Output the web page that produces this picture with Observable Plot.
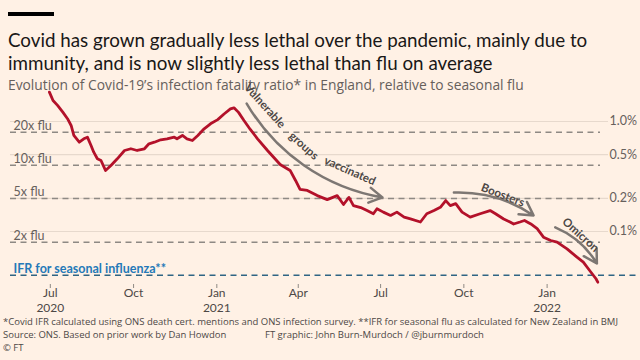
<!DOCTYPE html>
<html><head><meta charset="utf-8">
<script src="https://cdn.jsdelivr.net/npm/d3@7"></script>
<script src="https://cdn.jsdelivr.net/npm/@observablehq/plot@0.6"></script>
<style>
html,body{margin:0;padding:0;background:#fff1e5;}
#root{position:relative;width:640px;height:360px;overflow:hidden;background:#fff1e5;font-family:Lato,"Open Sans",sans-serif;color:#33302e;}
.bar{position:absolute;left:8px;top:12px;width:46px;height:4px;background:#000;}
.title{position:absolute;left:8px;top:28px;font-size:18.8px;line-height:23px;width:632px;color:#1a1817;}
.sub{position:absolute;left:8px;top:75px;font-family:"Open Sans",sans-serif;font-size:13.8px;color:#66605c;white-space:nowrap;}
#chart{position:absolute;left:0;top:90px;}
.foot{position:absolute;font-family:"Open Sans",sans-serif;font-size:9px;line-height:12px;color:#4d4845;white-space:nowrap;}
</style></head>
<body>
<div id="root">
  <div class="bar"></div>
  <div class="title">Covid has grown gradually less lethal over the pandemic, mainly due to immunity, and is now slightly less lethal than flu on average</div>
  <div class="sub">Evolution of Covid-19’s infection fatality ratio* in England, relative to seasonal flu</div>
  <div id="chart"></div>
  <div class="foot" id="f1" style="left:3px;top:316px;">*Covid IFR calculated using ONS death cert. mentions and ONS infection survey. **IFR for seasonal flu as calculated for New Zealand in BMJ</div>
  <div class="foot f2" style="left:3px;top:329px;">Source: ONS. Based on prior work by Dan Howdon</div>
  <div class="foot f2" style="left:265px;top:329px;">FT graphic: John Burn-Murdoch / @jburnmurdoch</div>
  <div class="foot f2" style="left:3px;top:342px;">© FT</div>
</div>
<script>
// ---- data ----
const dates = ["2020-06-30","2020-07-04","2020-07-09","2020-07-15","2020-07-20","2020-07-24","2020-07-27","2020-08-02","2020-08-07","2020-08-11",
"2020-08-15","2020-08-18","2020-08-22","2020-08-26","2020-08-31","2020-09-06","2020-09-13","2020-09-21","2020-09-28","2020-10-05",
"2020-10-13","2020-10-18","2020-10-24","2020-10-31","2020-11-07","2020-11-15","2020-11-18","2020-11-24","2020-11-29","2020-12-05",
"2020-12-11","2020-12-18","2020-12-25","2021-01-02","2021-01-09","2021-01-16","2021-01-20","2021-01-25","2021-01-31","2021-02-07",
"2021-02-15","2021-02-26","2021-03-12","2021-03-23","2021-03-29","2021-04-03","2021-04-11","2021-04-22","2021-05-03","2021-05-14",
"2021-05-21","2021-05-27","2021-06-01","2021-06-09","2021-06-16","2021-06-23","2021-06-27","2021-07-04","2021-07-12","2021-07-19",
"2021-07-27","2021-08-03","2021-08-14","2021-08-21","2021-08-29","2021-09-05","2021-09-11","2021-09-16","2021-09-22","2021-09-29",
"2021-10-08","2021-10-19","2021-10-30","2021-11-05","2021-11-14","2021-11-21","2021-11-25","2021-12-02","2021-12-07","2021-12-14",
"2021-12-21","2021-12-28","2022-01-05","2022-01-12","2022-01-23","2022-02-03","2022-02-10","2022-02-17","2022-02-24","2022-02-26"];
const ifrPct = [1.85,1.55,1.40,1.21,1.06,0.92,0.746,0.648,0.696,0.72,
0.605,0.526,0.458,0.442,0.359,0.398,0.458,0.545,0.565,0.545,
0.565,0.627,0.648,0.682,0.696,0.72,0.696,0.746,0.696,0.672,
0.746,0.858,0.953,1.04,1.17,1.30,1.33,1.21,1.02,0.846,
0.696,0.545,0.406,0.359,0.291,0.241,0.236,0.212,0.195,0.212,
0.176,0.204,0.172,0.165,0.155,0.145,0.161,0.150,0.140,0.150,
0.135,0.130,0.122,0.145,0.155,0.166,0.191,0.172,0.179,0.150,
0.135,0.145,0.155,0.145,0.130,0.122,0.117,0.122,0.126,0.117,
0.106,0.0888,0.0828,0.080,0.0696,0.0584,0.0526,0.0442,0.0372,0.0346];
const fluIFR = 0.04;
const fluMultiples = [20, 10, 5, 2];
const fluLabels = ["20x flu", "10x flu", "5x flu", "2x flu"];
const fluLabel = "IFR for seasonal influenza**";
const pctTicks = [0.1, 0.2, 0.5, 1.0];
const xTickDates = ["2020-07-01","2020-10-01","2021-01-01","2021-04-01","2021-07-01","2021-10-01","2022-01-01"];
const monthLabels = ["Jul","Oct","Jan","Apr","Jul","Oct","Jan"];
const yearTickDates = ["2020-07-01","2021-01-01","2022-01-01"];
const yearLabels = ["2020","2021","2022"];
const annTexts = ["Vulnerable","groups","vaccinated","Boosters","Omicron"];
const annDates = ["2021-02-23","2021-04-07","2021-05-28","2021-11-13","2022-02-07"];
const annValues = [1.386, 0.600, 0.355, 0.214, 0.093];
const annAngles = [48, 42, 24, 21, 42];
const arrowStart = [["2021-02-03", 1.457], ["2021-09-20", 0.226], ["2022-01-10", 0.109]];
const arrowEnd = [["2021-07-03", 0.204], ["2021-12-17", 0.140], ["2022-02-25", 0.0512]];

// ---- build ----
const parse = d3.utcParse("%Y-%m-%d");
const series = dates.map((d, i) => ({date: parse(d), ifr: ifrPct[i]}));
const xDomain = [parse("2020-05-18"), parse("2022-03-01")];
const monthMap = new Map(xTickDates.map((d, i) => [+parse(d), monthLabels[i]]));
const yearMap = new Map(yearTickDates.map((d, i) => [+parse(d), yearLabels[i]]));
const flu = fluMultiples.map((m, i) => ({v: m * fluIFR, label: fluLabels[i]}));
const ann = annTexts.map((t, i) => ({text: t, date: parse(annDates[i]), v: annValues[i], angle: annAngles[i]}));
const arrows = arrowStart.map((s, i) => ({x1: parse(s[0]), y1: s[1], x2: parse(arrowEnd[i][0]), y2: arrowEnd[i][1]}));

const chart = Plot.plot({
  width: 640, height: 224,
  marginLeft: 10, marginRight: 40, marginTop: 0, marginBottom: 30,
  style: {background: "transparent", fontFamily: "Lato, 'Open Sans', sans-serif", fontSize: "12.5px", color: "#66605c", overflow: "visible"},
  x: {type: "utc", domain: xDomain},
  y: {type: "log", domain: [0.03297, 1.913]},
  marks: [
    Plot.ruleY(pctTicks, {stroke: "#e7d9cd", strokeWidth: 1.2, insetRight: -8}),
    Plot.ruleY(flu, {y: "v", stroke: "#8e8984", strokeWidth: 1.5, strokeDasharray: "6,4.5"}),
    Plot.ruleY([fluIFR], {stroke: "#2f6584", strokeWidth: 1.7, strokeDasharray: "6,4.5", insetRight: -40}),
    Plot.text(flu, {x: () => xDomain[0], y: "v", text: "label", textAnchor: "start", lineAnchor: "bottom", dx: 3, dy: -2, fill: "#66605c", fontSize: 12.5}),
    Plot.text([fluLabel], {x: () => xDomain[0], y: () => fluIFR, text: d => d, textAnchor: "start", lineAnchor: "bottom", dx: 3, dy: -2, fill: "#2479b8", fontSize: 12.5, fontWeight: 700}),
    Plot.axisX({ticks: xTickDates.map(parse), tickFormat: d => monthMap.get(+d), tickSize: 4, tickPadding: 0, stroke: "#8e8984", fill: "#4d4845", fontSize: 12}),
    Plot.axisX({ticks: yearTickDates.map(parse), tickFormat: d => yearMap.get(+d), tickSize: 0, tickPadding: 19, fill: "#4d4845", fontSize: 12}),
    Plot.axisY({anchor: "right", ticks: pctTicks, tickFormat: d => d.toFixed(1) + "%", tickSize: 0, tickPadding: 9, fill: "#66605c", fontSize: 12.5}),
    Plot.line(series, {x: "date", y: "ifr", stroke: "#b3112a", strokeWidth: 2.8, strokeLinejoin: "round"}),
    Plot.arrow([arrows[0]], {x1: "x1", y1: "y1", x2: "x2", y2: "y2", bend: -25, stroke: "#7d7773", strokeWidth: 2.5, headLength: 9}),
    Plot.arrow(arrows.slice(1), {x1: "x1", y1: "y1", x2: "x2", y2: "y2", bend: 18, stroke: "#7d7773", strokeWidth: 2.5, headLength: 9}),
    Plot.text(ann, {x: "date", y: "v", text: "text", rotate: "angle", fill: "#4d4845", fontWeight: 700, fontSize: 11.5})
  ]
});
document.getElementById("chart").appendChild(chart);

// fit footer so its first line spans the same width as in the original
(function fitFooter() {
  const f1 = document.getElementById("f1");
  const target = 615;
  let size = 9;
  for (let k = 0; k < 4; k++) {
    f1.style.fontSize = size + "px";
    const w = f1.getBoundingClientRect().width;
    size = size * target / w;
  }
  size = Math.min(size, 9.6);
  document.querySelectorAll(".foot").forEach(el => el.style.fontSize = size + "px");
})();
</script>
</body></html>
